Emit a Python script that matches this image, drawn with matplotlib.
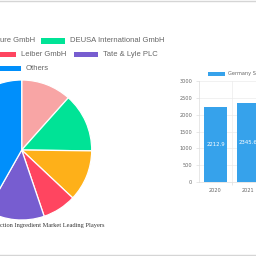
import matplotlib
matplotlib.use("Agg")
import matplotlib.pyplot as plt
from matplotlib.lines import Line2D
from matplotlib.patches import Rectangle

# pie data (share in %), clockwise from 12 o'clock
players = ["Pink Co", "DEUSA International GmbH", "Orange Co", "Leiber GmbH",
           "Tate & Lyle PLC", "Others"]
shares = [11.6, 13.6, 11.8, 7.8, 13.4, 41.8]
pie_colors = ["#f8a5a5", "#00e396", "#feb019", "#ff4560", "#775dd0", "#008ffb"]

# bar data
years = ["2020", "2021"]
values = [2212.9, 2345.6]

W = 256.0
fig = plt.figure(figsize=(2.56, 2.56), dpi=100)
fig.patch.set_facecolor("white")


def px(x, y, w, h):
    # pixel box (from top-left) -> figure fraction rect
    return [x / W, 1 - (y + h) / W, w / W, h / W]


# --- pie ---
cx, cy, r = 21.7, 150, 70
pax = fig.add_axes(px(cx - r, cy - r, 2 * r, 2 * r))
pax.pie(shares, colors=pie_colors, startangle=90, counterclock=False,
        wedgeprops=dict(edgecolor="white", linewidth=0.9))
pax.set_xlim(-1, 1)
pax.set_ylim(-1, 1)
pax.set_aspect("equal")
pax.axis("off")

fig.text(0 / W, 1 - 226 / W, "ction Ingredient Market Leading Players",
         family="Liberation Serif", fontsize=4.6, color="#333333",
         ha="left", va="center")

# --- pie legend (visible part) ---
leg_font = dict(family="Liberation Sans", fontsize=5.5, color="#666666",
                va="center", ha="left")
items = [
    # (swatch x0, x1, text x, row y, colour, label)
    (None, None, 0, 41, None, "ure GmbH"),
    (40.7, 65, 69.5, 41, pie_colors[1], players[1]),
    (-5, 16, 20.7, 54.5, pie_colors[3], players[3]),
    (74, 98, 103, 54.5, pie_colors[4], players[4]),
    (-5, 20.7, 25.3, 68.7, pie_colors[5], players[5]),
]
for x0, x1, tx, ry, col, lab in items:
    if col is not None:
        fig.add_artist(Rectangle((x0 / W, 1 - (ry + 2.7) / W), (x1 - x0) / W,
                                 5.4 / W, transform=fig.transFigure,
                                 facecolor=col, edgecolor="none"))
    fig.text(tx / W, 1 - ry / W, lab, **leg_font)

# --- bar chart ---
bax = fig.add_axes(px(199.3, 81, 64.7, 101))
xpos = list(range(len(years)))
bars = bax.bar(xpos, values, width=0.7, color="#36a2eb")
bax.set_xlim(-0.5, 1.5)
bax.set_ylim(0, 3000)
bax.set_yticks(range(0, 3001, 500))
bax.set_xticks(xpos)
bax.set_xticklabels(years)
bax.set_xticks([0.5], minor=True)
bax.grid(axis="y", color="#ebebeb", linewidth=0.5)
bax.grid(axis="x", which="minor", color="#ebebeb", linewidth=0.5)
bax.set_axisbelow(True)
for s in ["top", "right"]:
    bax.spines[s].set_visible(False)
for s in ["left", "bottom"]:
    bax.spines[s].set_color("#dddddd")
    bax.spines[s].set_linewidth(0.5)
bax.tick_params(axis="both", which="both", labelsize=3.6, colors="#dddddd",
                labelcolor="#666666", width=0.5, length=2.5, pad=2.5)
bax.tick_params(axis="x", which="major", length=0, pad=4.5)
for b, v in zip(bars, values):
    bax.text(b.get_x() + b.get_width() / 2, v / 2, f"{v:.1f}", ha="center",
             va="center", color="white", fontsize=3.9)

fig.add_artist(Rectangle((208.3 / W, 1 - 76.3 / W), 16.7 / W, 4.6 / W,
                         transform=fig.transFigure, facecolor="#36a2eb",
                         edgecolor="none"))
fig.text(228 / W, 1 - 74 / W, "Germany So", fontsize=3.6, color="#666666",
         ha="left", va="center")

# card border lines
fig.add_artist(Line2D([0, 1], [1 - 0.6 / W, 1 - 0.6 / W], color="#d5d5d5",
                      linewidth=1.0, transform=fig.transFigure))
fig.add_artist(Line2D([0, 1], [1 - 254.5 / W, 1 - 254.5 / W], color="#d5d5d5",
                      linewidth=1.0, transform=fig.transFigure))

fig.savefig("out.png", dpi=100)
